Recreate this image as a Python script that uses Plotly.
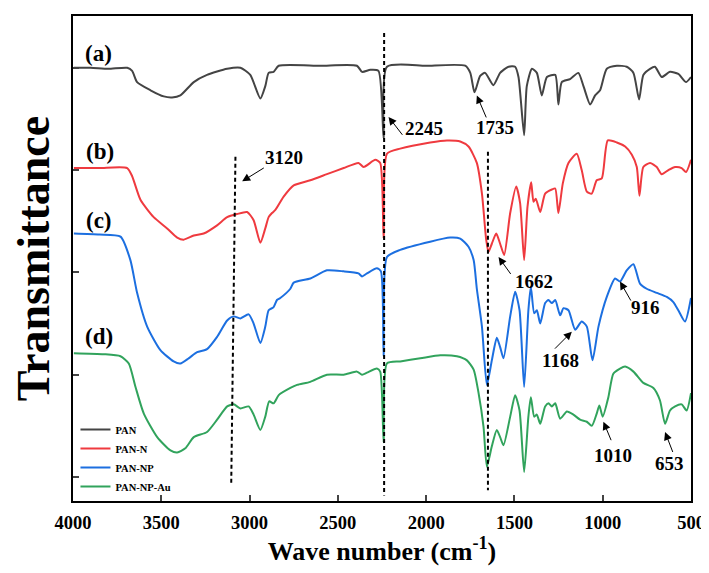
import plotly.graph_objects as go

# ---------------- data ----------------
wn_a = [3995, 3900, 3800, 3693, 3665, 3637, 3561, 3486, 3439, 3392, 3316, 3241, 3127, 3052, 2996, 2939, 2911, 2892, 2864, 2835,
        2600, 2392, 2363, 2316, 2270, 2241, 2222, 2000, 1779, 1750, 1726, 1694, 1666, 1619, 1581, 1534, 1496, 1477, 1445, 1430,
        1401, 1373, 1345, 1316, 1269, 1251, 1232, 1185, 1138, 1109, 1071, 1043, 1015, 977, 920, 864, 826, 794, 770, 732,
        704, 666, 619, 572, 528, 500]
t_a = [4.00, 4.00, 3.99, 4.00, 3.97, 3.86, 3.78, 3.72, 3.71, 3.73, 3.86, 3.93, 3.99, 4.00, 3.93, 3.70, 3.82, 3.95, 3.96, 4.02,
       4.02, 4.02, 3.96, 3.98, 3.97, 3.31, 4.01, 4.02, 4.02, 3.95, 3.76, 3.92, 3.95, 3.83, 3.95, 4.01, 4.01, 3.91, 3.34, 3.82,
       3.99, 3.95, 3.73, 3.91, 3.93, 3.64, 3.86, 3.89, 3.95, 3.82, 3.64, 3.73, 3.78, 3.99, 4.02, 4.01, 3.95, 3.69, 3.93, 3.99,
       4.01, 3.91, 3.96, 3.94, 3.86, 3.91]

wn_b = [3995, 3850, 3693, 3665, 3618, 3543, 3467, 3410, 3373, 3316, 3260, 3184, 3127, 3071, 3014, 2977, 2939, 2911, 2892, 2873,
        2854, 2807, 2750, 2656, 2562, 2467, 2383, 2354, 2288, 2260, 2241, 2222, 2147, 1977, 1882, 1807, 1760, 1713, 1684, 1660,
        1647, 1628, 1603, 1581, 1558, 1524, 1490, 1468, 1445, 1426, 1405, 1392, 1379, 1354, 1326, 1288, 1269, 1251, 1226, 1194,
        1147, 1119, 1090, 1062, 1034, 1005, 971, 920, 873, 835, 807, 792, 770, 732, 694, 666, 628, 590, 553, 528, 500]
t_b = [3.02, 3.02, 3.02, 2.94, 2.71, 2.54, 2.43, 2.34, 2.32, 2.36, 2.38, 2.46, 2.54, 2.57, 2.59, 2.51, 2.29, 2.43, 2.54, 2.58,
       2.61, 2.74, 2.85, 2.90, 2.96, 3.02, 3.07, 3.03, 3.10, 3.07, 2.33, 3.16, 3.21, 3.27, 3.29, 3.28, 3.23, 3.07, 2.77, 2.32,
       2.20, 2.28, 2.38, 2.28, 2.17, 2.58, 2.84, 2.68, 2.12, 2.64, 2.88, 2.69, 2.72, 2.59, 2.77, 2.81, 2.82, 2.58, 2.87, 3.07,
       3.16, 3.00, 2.79, 2.77, 2.90, 2.92, 3.29, 3.27, 3.23, 3.15, 3.03, 2.75, 3.03, 3.07, 3.03, 2.96, 3.00, 3.03, 3.02, 2.98,
       3.10]

wn_c = [3995, 3850, 3731, 3675, 3637, 3580, 3505, 3430, 3392, 3345, 3297, 3241, 3184, 3127, 3090, 3052, 3005, 2977, 2939, 2911,
        2892, 2864, 2845, 2826, 2769, 2750, 2656, 2562, 2467, 2383, 2363, 2335, 2279, 2256, 2241, 2222, 2147, 1977, 1864, 1807,
        1760, 1731, 1713, 1684, 1656, 1628, 1600, 1581, 1562, 1524, 1496, 1471, 1445, 1421, 1407, 1388, 1373, 1354, 1326, 1307,
        1288, 1269, 1241, 1222, 1194, 1156, 1119, 1090, 1058, 1024, 977, 930, 902, 864, 826, 789, 751, 694, 637, 600,
        572, 534, 500]
t_c = [2.38, 2.37, 2.35, 2.12, 1.80, 1.47, 1.24, 1.13, 1.11, 1.16, 1.22, 1.25, 1.37, 1.53, 1.57, 1.55, 1.59, 1.50, 1.31, 1.47,
       1.63, 1.66, 1.73, 1.75, 1.84, 1.90, 1.94, 2.02, 2.01, 1.99, 1.96, 1.99, 2.04, 2.01, 1.18, 2.15, 2.22, 2.30, 2.34, 2.33,
       2.25, 2.12, 1.84, 1.47, 0.90, 1.14, 1.36, 1.27, 1.16, 1.57, 1.81, 1.63, 0.88, 1.63, 1.86, 1.60, 1.63, 1.50, 1.70, 1.73,
       1.70, 1.73, 1.58, 1.65, 1.63, 1.44, 1.52, 1.47, 1.14, 1.47, 1.76, 1.94, 1.91, 2.02, 2.08, 1.89, 1.84, 1.80, 1.76, 1.71,
       1.63, 1.52, 1.75]

wn_d = [3995, 3826, 3731, 3684, 3646, 3599, 3523, 3448, 3410, 3364, 3316, 3241, 3184, 3127, 3090, 3052, 3005, 2977, 2939, 2911,
        2889, 2864, 2835, 2769, 2731, 2656, 2562, 2467, 2392, 2363, 2335, 2279, 2260, 2241, 2222, 2147, 2033, 1920, 1826, 1769,
        1731, 1703, 1675, 1656, 1628, 1600, 1581, 1562, 1524, 1496, 1471, 1445, 1421, 1407, 1388, 1373, 1354, 1326, 1307, 1288,
        1269, 1241, 1203, 1166, 1128, 1090, 1062, 1034, 1019, 1000, 968, 940, 902, 873, 826, 770, 713, 676, 647, 619,
        590, 553, 525, 500]
t_d = [1.21, 1.20, 1.18, 1.11, 0.88, 0.62, 0.39, 0.26, 0.24, 0.28, 0.39, 0.44, 0.56, 0.69, 0.71, 0.67, 0.69, 0.61, 0.46, 0.59,
       0.74, 0.72, 0.80, 0.87, 0.90, 0.93, 1.00, 1.00, 1.03, 1.00, 1.02, 1.06, 1.03, 0.34, 1.11, 1.13, 1.16, 1.19, 1.18, 1.14,
       1.05, 0.82, 0.49, 0.10, 0.30, 0.46, 0.39, 0.31, 0.59, 0.80, 0.65, 0.05, 0.59, 0.78, 0.59, 0.61, 0.52, 0.69, 0.72, 0.69,
       0.72, 0.57, 0.64, 0.61, 0.56, 0.54, 0.50, 0.62, 0.70, 0.59, 0.78, 1.01, 1.06, 1.08, 1.03, 0.92, 0.87, 0.75, 0.52, 0.65,
       0.69, 0.71, 0.65, 0.82]

series_names = ["PAN", "PAN-N", "PAN-NP", "PAN-NP-Au"]
curve_labels = ["(a)", "(b)", "(c)", "(d)"]
curve_label_wn = [3855, 3845, 3855, 3855]
curve_label_t = [4.14, 3.18, 2.51, 1.37]

x_ticks = [4000, 3500, 3000, 2500, 2000, 1500, 1000, 500]

# dashed guide lines: (wn_top, t_top, wn_bottom, t_bottom)
guide_wn_top = [2238, 3080, 1650]
guide_t_top = [4.34, 3.13, 3.18]
guide_wn_bot = [2238, 3104, 1650]
guide_t_bot = [-0.18, -0.08, -0.13]

# peak labels
peak_text = ["3120", "2245", "1735", "1662", "1168", "916", "1010", "653"]
peak_text_wn = [2805, 2012, 1609, 1392, 1241, 760, 940, 619]
peak_text_t = [3.12, 3.41, 3.42, 1.91, 1.14, 1.66, 0.215, 0.13]
arrow_head_wn = [3042, 2213, 1713, 1590, 1175, 902, 996, 647]
arrow_head_t = [2.89, 3.52, 3.73, 2.15, 1.42, 1.91, 0.54, 0.44]
arrow_tail_wn = [2911, 2128, 1656, 1515, 1279, 836, 949, 600]
arrow_tail_t = [3.03, 3.33, 3.50, 1.97, 1.24, 1.71, 0.345, 0.23]

# ---------------- figure ----------------
FONT = "Liberation Serif"
colors = ["#444444", "#ef3a3f", "#1c6fe0", "#31a35c"]
xs = [wn_a, wn_b, wn_c, wn_d]
ys = [t_a, t_b, t_c, t_d]

fig = go.Figure()
for name, x, y, c in zip(series_names, xs, ys, colors):
    fig.add_trace(go.Scatter(x=x, y=y, mode="lines", name=name,
                             line=dict(color=c, width=2, shape="spline", smoothing=0.6)))

shapes = []
for x0, y0, x1, y1 in zip(guide_wn_top, guide_t_top, guide_wn_bot, guide_t_bot):
    shapes.append(dict(type="line", xref="x", yref="y", x0=x0, y0=y0, x1=x1, y1=y1,
                       line=dict(color="black", width=2, dash="4px,3px")))

annotations = []
for txt, xw, yt in zip(curve_labels, curve_label_wn, curve_label_t):
    annotations.append(dict(x=xw, y=yt, xref="x", yref="y", text=txt, showarrow=False,
                            font=dict(family=FONT, size=23, color="black", weight="bold")))
for txt, xw, yt in zip(peak_text, peak_text_wn, peak_text_t):
    annotations.append(dict(x=xw, y=yt, xref="x", yref="y", text=txt, showarrow=False,
                            font=dict(family=FONT, size=19, color="black", weight="bold")))
for hx, hy, tx, ty in zip(arrow_head_wn, arrow_head_t, arrow_tail_wn, arrow_tail_t):
    annotations.append(dict(x=hx, y=hy, xref="x", yref="y", ax=tx, ay=ty, axref="x", ayref="y",
                            text="", showarrow=True, arrowhead=2, arrowsize=1.6, arrowwidth=1,
                            arrowcolor="black", standoff=0, startstandoff=0))

# the page body adds an 8px offset, so the figure is 8px smaller and margins shifted
fig.update_layout(
    width=701, height=565,
    margin=dict(l=65, r=18, t=8, b=72),
    paper_bgcolor="white", plot_bgcolor="white",
    font=dict(family=FONT, color="black"),
    shapes=shapes, annotations=annotations,
    legend=dict(x=0.004, y=0.0, xanchor="left", yanchor="bottom",
                bgcolor="rgba(0,0,0,0)", font=dict(family=FONT, size=10.5, weight="bold"),
                itemwidth=30, tracegroupgap=0),
    showlegend=True,
)
fig.update_xaxes(range=[4000, 500], tickvals=x_ticks, ticks="inside", ticklen=6, tickwidth=1.5,
                 automargin=False, ticklabelstandoff=4,
                 showline=True, linecolor="black", linewidth=1.5, mirror=True, showgrid=False, zeroline=False,
                 tickfont=dict(family=FONT, size=18.5, weight="bold"),
                 title=dict(text="Wave number (cm<sup>-1</sup>)", standoff=2,
                            font=dict(family=FONT, size=26, weight="bold")))
fig.update_yaxes(range=[-0.2346, 4.506], tickvals=[0, 1, 2, 3, 4], ticks="inside", ticklen=6, tickwidth=1.5,
                 automargin=False,
                 showticklabels=False, showline=True, linecolor="black", linewidth=1.5, mirror=True,
                 showgrid=False, zeroline=False,
                 title=dict(text="Transmittance", standoff=14,
                            font=dict(family=FONT, size=46, weight="bold")))

fig.write_html("out.html")
